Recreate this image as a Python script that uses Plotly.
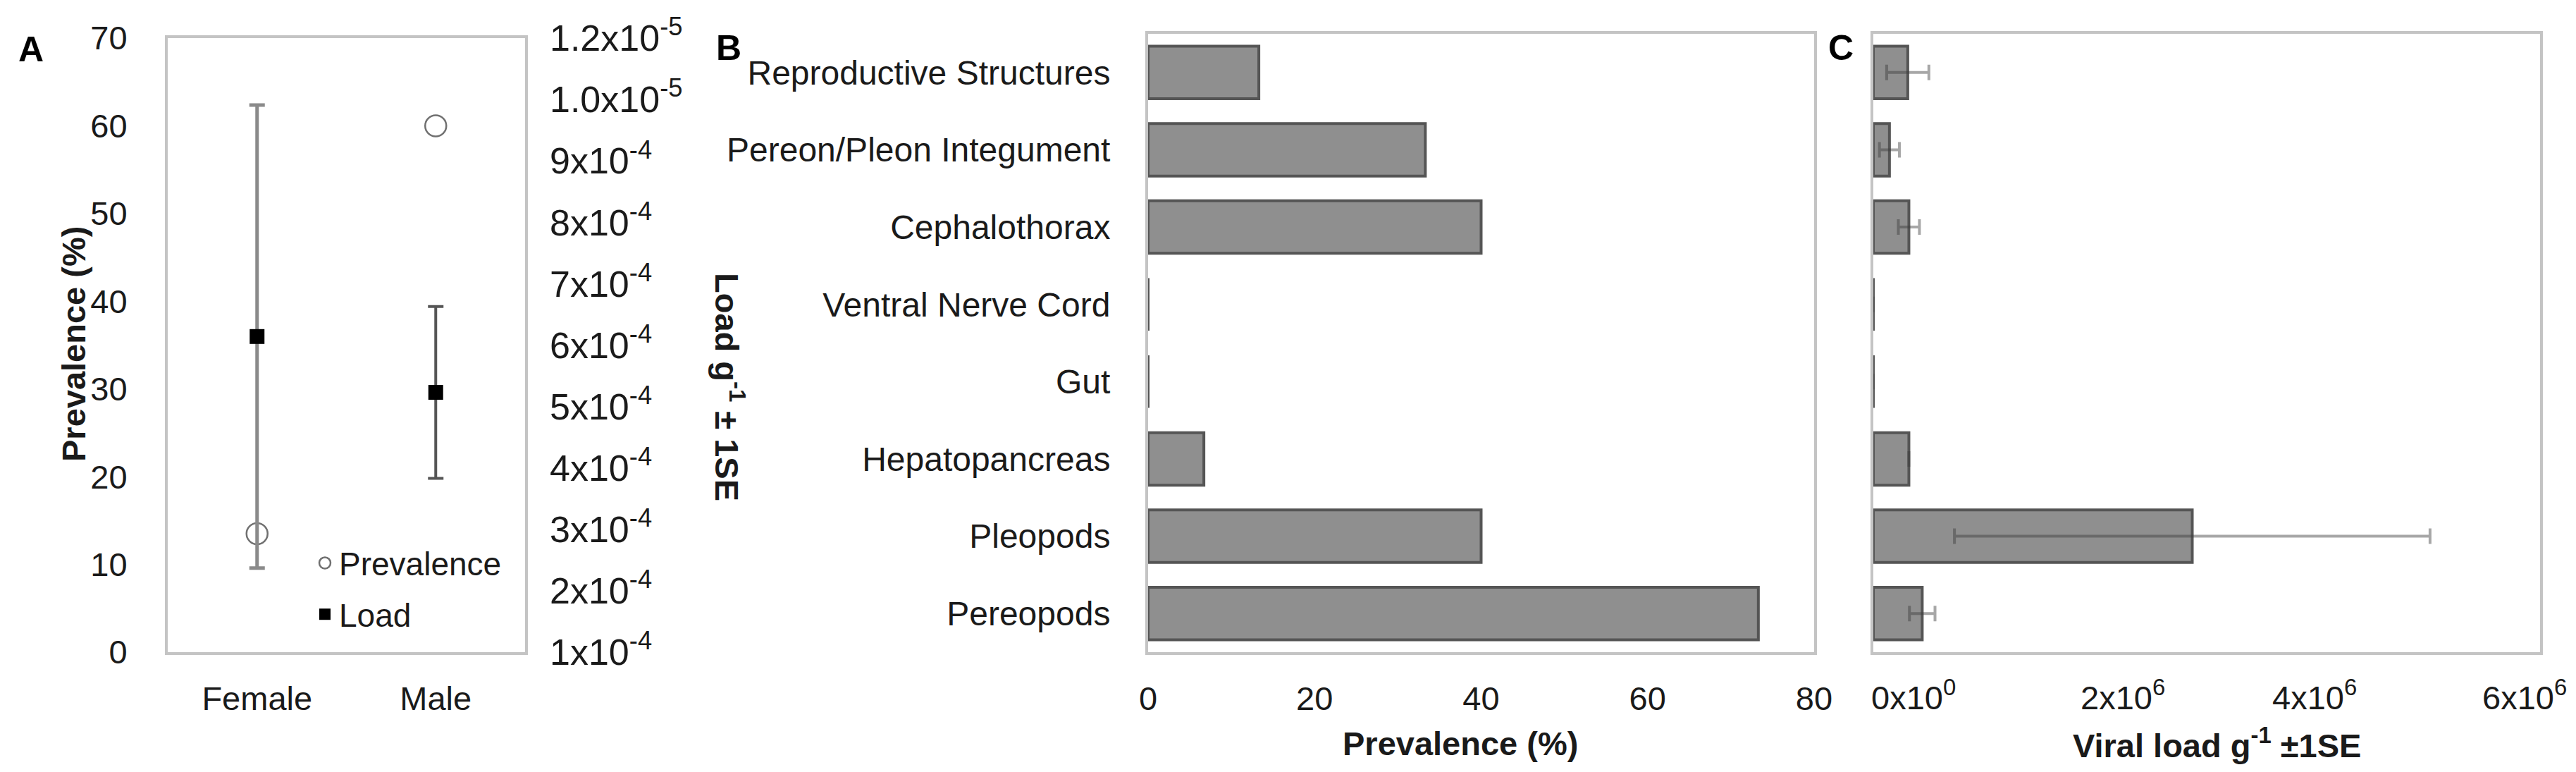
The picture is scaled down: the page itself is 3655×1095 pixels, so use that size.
import plotly.graph_objects as go

# ---------------- data ----------------
sexes = ["Female", "Male"]
prevalence_by_sex = [13.5, 60.0]          # %
load_by_sex = [6.14e-4, 5.23e-4]          # load g^-1 (right axis units)
load_se_by_sex = [3.77e-4, 1.40e-4]

load_axis_vals = [1e-4, 2e-4, 3e-4, 4e-4, 5e-4, 6e-4, 7e-4, 8e-4, 9e-4, 1.0e-3, 1.1e-3]
load_axis_text = ["1x10<sup>-4</sup>", "2x10<sup>-4</sup>", "3x10<sup>-4</sup>", "4x10<sup>-4</sup>",
                  "5x10<sup>-4</sup>", "6x10<sup>-4</sup>", "7x10<sup>-4</sup>", "8x10<sup>-4</sup>",
                  "9x10<sup>-4</sup>", "1.0x10<sup>-5</sup>", "1.2x10<sup>-5</sup>"]

tissues = ["Reproductive Structures", "Pereon/Pleon Integument", "Cephalothorax",
           "Ventral Nerve Cord", "Gut", "Hepatopancreas", "Pleopods", "Pereopods"]
prevalence_by_tissue = [13.3, 33.3, 40.0, 0.0, 0.0, 6.7, 40.0, 73.3]
viral_load_by_tissue = [3.1e5, 1.45e5, 3.2e5, 0.0, 0.0, 3.2e5, 2.87e6, 4.4e5]
viral_load_se = [1.9e5, 0.9e5, 0.95e5, 0.0, 0.0, 0.0, 2.14e6, 1.15e5]

viral_ticks = [0, 2e6, 4e6, 6e6]
viral_tick_text = ["0x10<sup>0</sup>", "2x10<sup>6</sup>", "4x10<sup>6</sup>", "6x10<sup>6</sup>"]

# ---------------- styles ----------------
FONT = "Liberation Sans, Arial, sans-serif"
TXT = "#1a1a1a"
AXC = "#c4c4c4"
BAR_FILL = "#8f8f8f"
BAR_LINE = "#555555"
errbar_colors = ["#8a8a8a", "#555555"]
errbar_widths = [5, 4]
viral_tick_shift = [57, 39, -5, -22]   # label offsets (px) as laid out in the reference

W, H = 3655, 1095
def px_x(p): return p / W
def px_y(p): return 1 - p / H

fig = go.Figure()

# Panel A: prevalence (open circles)
fig.add_trace(go.Scatter(
    x=sexes, y=prevalence_by_sex, mode="markers", name="Prevalence",
    marker=dict(symbol="circle-open", size=30, color="#707070", line=dict(width=2.5, color="#707070")),
    xaxis="x", yaxis="y", showlegend=True, legendgroup="prev", cliponaxis=False))

# Panel A: load with SE (one trace per sex for its own error bar style)
for i, s in enumerate(sexes):
    fig.add_trace(go.Scatter(
        x=[s], y=[load_by_sex[i]], mode="markers", name="Load",
        marker=dict(symbol="square", size=21, color="black"),
        error_y=dict(type="data", array=[load_se_by_sex[i]], visible=True,
                     color=errbar_colors[i], thickness=errbar_widths[i], width=11),
        xaxis="x", yaxis="y2", legendgroup="load", showlegend=(i == 0)))

# Panel B: prevalence by tissue
fig.add_trace(go.Bar(
    y=tissues, x=prevalence_by_tissue, orientation="h",
    marker=dict(color=BAR_FILL, line=dict(color=BAR_LINE, width=4)),
    xaxis="x2", yaxis="y3", showlegend=False, width=0.68))

# Panel C: viral load by tissue
fig.add_trace(go.Bar(
    y=tissues, x=viral_load_by_tissue, orientation="h",
    marker=dict(color=BAR_FILL, line=dict(color=BAR_LINE, width=4)),
    error_x=dict(type="data", array=viral_load_se, visible=True,
                 color="rgba(60,60,60,0.45)", thickness=4, width=11),
    xaxis="x3", yaxis="y4", showlegend=False, width=0.68))

tickfont = dict(family=FONT, size=47, color=TXT)
titlefont = dict(family=FONT, size=47, color=TXT)

top_a = px_y(46)
top_bc = px_y(40)
bottom = px_y(917)

common = dict(showgrid=False, zeroline=False, showline=True, linecolor=AXC, linewidth=4,
              mirror=True, ticks="", automargin=False)

fig.update_layout(
    width=W, height=H, autosize=False,
    margin=dict(l=0, r=0, t=0, b=0, pad=0),
    paper_bgcolor="white", plot_bgcolor="white",
    font=dict(family=FONT, color=TXT),
    legend=dict(x=px_x(433), y=px_y(754), xanchor="left", yanchor="top",
                bgcolor="rgba(0,0,0,0)", font=dict(family=FONT, size=46, color=TXT),
                itemsizing="trace", traceorder="grouped", tracegroupgap=10),
    bargap=0.32,
    xaxis=dict(domain=[px_x(230), px_x(737)], type="category", range=[-0.5, 1.5],
               tickfont=tickfont, ticklabelstandoff=22, anchor="y", **common),
    yaxis=dict(domain=[bottom, top_a], range=[0, 70], dtick=10,
               tickfont=tickfont, ticklabelstandoff=44, anchor="x", **common),
    yaxis2=dict(overlaying="y", side="right", anchor="x", range=[1e-4, 1.1e-3],
                tickvals=load_axis_vals, ticktext=load_axis_text, showgrid=False, zeroline=False,
                showline=False, ticks="", automargin=False,
                tickfont=dict(family=FONT, size=52, color=TXT), ticklabelstandoff=34),
    xaxis2=dict(domain=[px_x(1621), px_x(2566)], range=[0, 80], dtick=20, anchor="y3",
                tickfont=tickfont, ticklabelstandoff=22, **common),
    yaxis3=dict(domain=[bottom, top_bc], type="category", range=[7.5, -0.5], anchor="x2",
                tickfont=dict(family=FONT, size=48, color=TXT), ticklabelstandoff=40, **common),
    xaxis3=dict(domain=[px_x(2650), px_x(3596)], range=[0, 6e6], anchor="y4",
                tickvals=viral_ticks, showticklabels=False, **common),
    yaxis4=dict(domain=[bottom, top_bc], type="category", range=[7.5, -0.5], anchor="x3",
                showticklabels=False, **common),
)

def note(text, x, y, font, angle=0, xref="paper", xshift=0):
    fig.add_annotation(text=text, x=x, y=y, xref=xref, yref="paper", xshift=xshift,
                       showarrow=False, textangle=angle, font=font,
                       xanchor="center", yanchor="middle")

# tick labels of the viral-load axis, placed at their data values
for v, t, dx in zip(viral_ticks, viral_tick_text, viral_tick_shift):
    note(t, v, px_y(978), tickfont, xref="x3", xshift=dx)

# axis titles
note("<b>Prevalence (%)</b>", px_x(96), px_y(480), titlefont, angle=-90)
note("<b>Load g<sup>-1</sup> ± 1SE</b>", px_x(1027), px_y(541), titlefont, angle=90)
note("<b>Prevalence (%)</b>", px_x(2064), px_y(1046), titlefont)
note("<b>Viral load g<sup>-1</sup> ±1SE</b>", px_x(3137), px_y(1046), titlefont)

# panel letters
panel_font = dict(family=FONT, size=50, color="black")
note("<b>A</b>", px_x(36), px_y(62), panel_font)
note("<b>B</b>", px_x(1026), px_y(60), panel_font)
note("<b>C</b>", px_x(2604), px_y(60), panel_font)

fig.write_html("out.html")
